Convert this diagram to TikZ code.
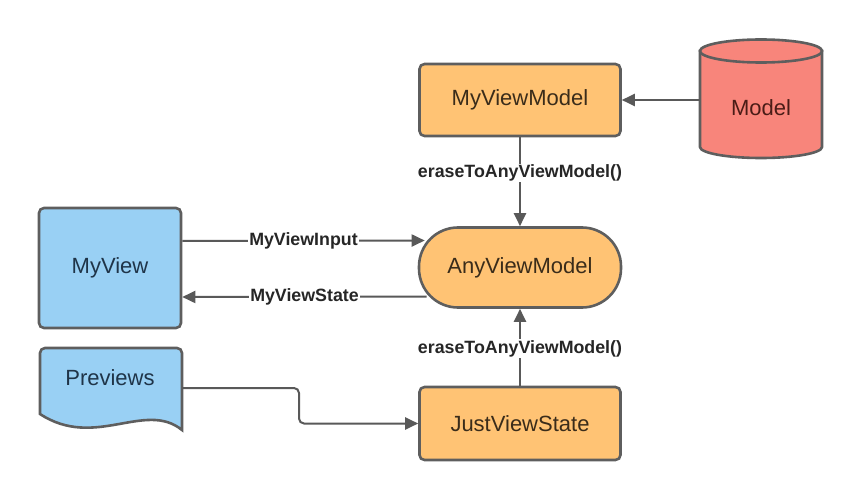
\documentclass[tikz,border=0pt]{standalone}
\usepackage{fontspec}
\setmainfont{Liberation Sans}
\usetikzlibrary{arrows.meta,calc}
\definecolor{orfill}{HTML}{FFC374}
\definecolor{blfill}{HTML}{99D0F4}
\definecolor{rdfill}{HTML}{F8857B}
\definecolor{bord}{HTML}{5E5E5E}
\definecolor{linec}{HTML}{595959}
\definecolor{ortext}{HTML}{3A2C1A}
\definecolor{bltext}{HTML}{1F3448}
\definecolor{rdtext}{HTML}{4A1C17}
\tikzset{
  box/.style={draw=bord, line width=2.6pt, rounded corners=5pt, inner sep=0pt,
    font=\fontsize{22}{26}\selectfont},
  orbox/.style={box, fill=orfill, text=ortext, minimum width=201pt, minimum height=72pt},
  blbox/.style={box, fill=blfill, text=bltext},
  ghost/.style={inner sep=0pt},
  conn/.style={draw=linec, line width=2pt, -{Triangle[length=13pt,width=12pt]}},
  lbl/.style={fill=white, inner sep=1pt, text=black!85, font=\fontsize{17.8}{21}\selectfont\bfseries},
}
\begin{document}
\begin{tikzpicture}[x=1pt,y=-1pt]
\useasboundingbox (0,0) rectangle (860,500);
\fill[white] (0,0) rectangle (860,500);

% nodes
\node[orbox] (mvm) at (520,100) {MyViewModel};
\node[orbox, rounded corners=39pt, minimum height=80pt, minimum width=202pt] (avm) at (520,267.5) {AnyViewModel};
\node[orbox, minimum height=73pt] (jvs) at (520,423.5) {JustViewState};
\node[blbox, minimum width=142pt, minimum height=120pt] (mv) at (110,268) {MyView};

% Model cylinder
\node[ghost, minimum width=122pt, minimum height=118pt] (model) at (761,100) {};
\filldraw[fill=rdfill, draw=bord, line width=2.6pt]
  (700,51) -- (700,147) arc[start angle=180, end angle=360, x radius=61pt, y radius=11pt] -- (822,51) -- cycle;
\filldraw[fill=rdfill, draw=bord, line width=2.6pt] (761,51) ellipse[x radius=61pt, y radius=11.5pt];
\node[font=\fontsize{22}{26}\selectfont, text=rdtext] (modeltxt) at (761,108) {Model};

% Previews document
\node[ghost, minimum width=142pt, minimum height=66pt] (prev) at (111,381) {};
\filldraw[fill=blfill, draw=bord, line width=2.6pt, rounded corners=5pt]
  (40,414) -- (40,348) -- (182,348) [sharp corners] -- (182,430)
  .. controls (145,400) and (95,450) .. (40,414) -- cycle;
\node[font=\fontsize{22}{26}\selectfont, text=bltext] (prevtxt) at (110,378) {Previews};

% connectors
\draw[conn] (model.west) -- (mvm.east);
\draw[conn] (mvm.south) -- node[lbl, pos=0.4] {eraseToAnyViewModel()} (avm.north);
\draw[conn] (jvs.north) -- node[lbl, pos=0.48] {eraseToAnyViewModel()} (avm.south);
\coordinate (mvin) at ($(mv.east)+(0,-27)$);
\coordinate (avin) at ($(avm.west)+(7,-27)$);
\draw[conn] (mvin) -- node[lbl] {MyViewInput} (avin);
\coordinate (avout) at ($(avm.west)+(9,29)$);
\coordinate (mvout) at ($(mv.east)+(0,29)$);
\draw[conn] (avout) -- node[lbl] {MyViewState} (mvout);
\coordinate (prevout) at (182,388);
\draw[conn, rounded corners=5pt] (prevout) -- (299,388) -- (299,423.5) -- (jvs.west);
\end{tikzpicture}
\end{document}
